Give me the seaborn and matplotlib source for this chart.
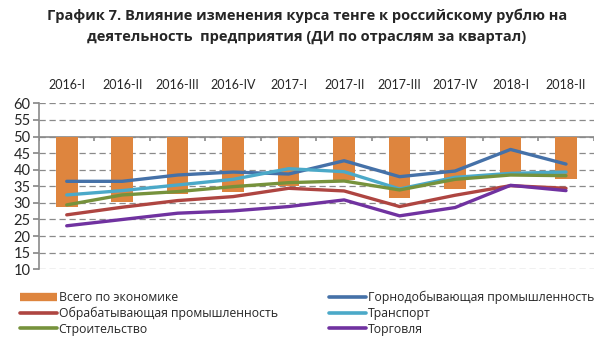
import matplotlib
matplotlib.use("Agg")
import matplotlib.pyplot as plt
import seaborn as sns
import pandas as pd
import numpy as np
from matplotlib.lines import Line2D

categories = ["2016-I", "2016-II", "2016-III", "2016-IV", "2017-I", "2017-II",
              "2017-III", "2017-IV", "2018-I", "2018-II"]
total_economy = [28.9, 30.2, 32.6, 33.4, 35.0, 36.9, 31.4, 34.1, 39.1, 37.3]
mining = [36.5, 36.5, 38.4, 39.3, 38.7, 42.7, 37.9, 39.6, 46.1, 41.7]
manufacturing = [26.4, 28.7, 30.7, 31.9, 34.4, 33.6, 28.9, 32.3, 35.2, 34.4]
transport = [32.4, 33.7, 35.4, 37.1, 40.3, 39.4, 34.2, 37.7, 38.9, 39.3]
construction = [29.4, 32.4, 33.4, 34.9, 36.1, 36.6, 33.9, 37.1, 38.4, 38.2]
trade = [23.1, 25.0, 26.9, 27.6, 28.9, 30.9, 26.1, 28.6, 35.3, 33.7]

bar_name = "Всего по экономике"
series = {
    "Горнодобывающая промышленность": mining,
    "Обрабатывающая промышленность": manufacturing,
    "Транспорт": transport,
    "Строительство": construction,
    "Торговля": trade,
}
colors = {
    "Горнодобывающая промышленность": "#4571A8",
    "Обрабатывающая промышленность": "#AE4541",
    "Транспорт": "#4BA9C8",
    "Строительство": "#76923C",
    "Торговля": "#7032A0",
}
bar_color = "#DE853E"
baseline = 50
title_lines = ["График 7. Влияние изменения курса тенге к российскому рублю на",
               "деятельность  предприятия (ДИ по отраслям за квартал)"]

sns.set_theme(style="white")
plt.rcParams["font.family"] = ["Open Sans", "DejaVu Sans"]

fig = plt.figure(figsize=(6.14, 3.46), dpi=100)
ax = fig.add_axes([0.0635, 0.2217, 0.9035, 0.4797])

pos = np.arange(len(categories))
ax.bar(pos, np.array(total_economy) - baseline, bottom=baseline, width=0.39,
       color=bar_color, linewidth=0, zorder=2)

rows = []
for name, vals in series.items():
    for i, v in enumerate(vals):
        rows.append({"pos": i, "value": v, "series": name})
df = pd.DataFrame(rows)
sns.lineplot(data=df, x="pos", y="value", hue="series", palette=colors,
             hue_order=list(series.keys()), linewidth=2.4, legend=False,
             ax=ax, zorder=3, solid_capstyle="round", solid_joinstyle="round")

ax.set_xlim(-0.5, len(categories) - 0.5)
ax.set_ylim(10, 60)
ax.set_yticks(np.arange(10, 61, 5))
ax.yaxis.grid(True, linestyle=(0, (5, 3)), color="#8a8a8a", linewidth=0.9, zorder=1)
ax.axhline(baseline, color="#8a8a8a", linewidth=1.2, zorder=1.5)
ax.vlines(np.arange(-0.5, len(categories)), baseline - 1.5, baseline,
          color="#8a8a8a", linewidth=1.2, zorder=1.5)

ax.xaxis.tick_top()
ax.set_xticks(pos)
ax.set_xticklabels(categories, fontsize=9.0)
for lab in ax.get_xticklabels():
    lab.set_fontfamily(["Lato", "DejaVu Sans"])
ax.tick_params(axis="x", length=0, pad=9)
ax.tick_params(axis="y", length=4, color="#8a8a8a", labelsize=10.5, pad=2, left=True)
for lab in ax.get_yticklabels():
    lab.set_fontfamily(["Lato", "DejaVu Sans"])
ax.set_xlabel("")
ax.set_ylabel("")
for s in ["top", "right", "bottom"]:
    ax.spines[s].set_visible(False)
ax.spines["left"].set_color("#8a8a8a")
ax.spines["left"].set_linewidth(1.2)

fig.text(0.5, 1 - 20 / 346, title_lines[0], ha="center", va="baseline",
         fontsize=10.5, fontweight="bold")
fig.text(0.5, 1 - 41 / 346, title_lines[1], ha="center", va="baseline",
         fontsize=10.5, fontweight="bold")

def line_handle(c):
    return Line2D([], [], color=c, lw=2.6, solid_capstyle="round")

handles_left = [Line2D([], [], color=bar_color, lw=6, solid_capstyle="butt"),
                line_handle(colors["Обрабатывающая промышленность"]),
                line_handle(colors["Строительство"])]
labels_left = [bar_name, "Обрабатывающая промышленность", "Строительство"]
handles_right = [line_handle(colors["Горнодобывающая промышленность"]),
                 line_handle(colors["Транспорт"]),
                 line_handle(colors["Торговля"])]
labels_right = ["Горнодобывающая промышленность", "Транспорт", "Торговля"]

common = dict(loc="upper left", frameon=False, fontsize=8.8, handlelength=3.0,
              handletextpad=0.15, labelspacing=0.22, borderaxespad=0, borderpad=0)
fig.legend(handles_left, labels_left, bbox_to_anchor=(20 / 614, 1 - 291 / 346), **common)
fig.legend(handles_right, labels_right, bbox_to_anchor=(329 / 614, 1 - 291 / 346), **common)

fig.savefig("out.png", dpi=100)
